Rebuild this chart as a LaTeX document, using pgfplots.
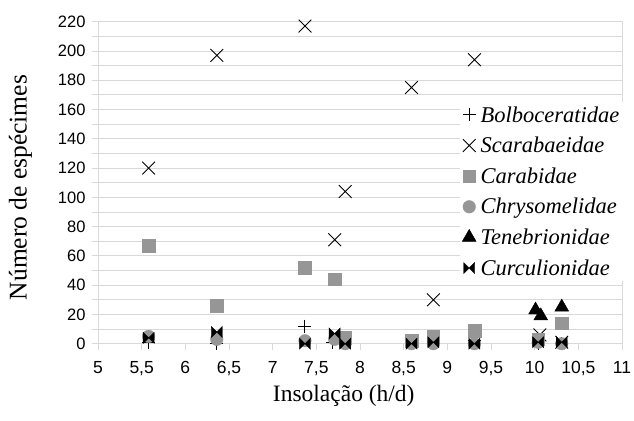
\documentclass[border=0pt]{standalone}
\usepackage{fontspec}
\setmainfont{Liberation Serif}
\setsansfont{Liberation Sans}
\usepackage{pgfplots}
\pgfplotsset{compat=1.18}
\pgfdeclareplotmark{bowtie}{%
  \pgfpathmoveto{\pgfqpoint{-\pgfplotmarksize}{\pgfplotmarksize}}%
  \pgfpathlineto{\pgfqpoint{\pgfplotmarksize}{-\pgfplotmarksize}}%
  \pgfpathlineto{\pgfqpoint{\pgfplotmarksize}{\pgfplotmarksize}}%
  \pgfpathlineto{\pgfqpoint{-\pgfplotmarksize}{-\pgfplotmarksize}}%
  \pgfpathclose
  \pgfusepathqfillstroke}
\definecolor{gridc}{RGB}{217,217,217}
\definecolor{markg}{RGB}{150,150,150}
\begin{document}
\begin{tikzpicture}
\begin{axis}[
  scale only axis,
  width=524pt, height=322pt,
  xmin=5, xmax=11, ymin=0, ymax=220,
  xtick distance=0.5, ytick distance=20,
  minor y tick num=1,
  ymajorgrids, yminorgrids,
  major grid style={gridc, line width=0.8pt},
  minor grid style={gridc, line width=0.8pt},
  axis line style={gridc, line width=0.8pt},
  tick style={gridc, line width=0.8pt},
  tick align=outside,
  major tick length=6pt, minor tick length=6pt,
  xtick pos=bottom, ytick pos=left,
  /pgf/number format/use comma,
  /pgf/number format/assume math mode=true,
  xticklabel style={font=\sffamily\fontsize{17.5}{17.5}\selectfont, black, yshift=-8pt},
  yticklabel style={font=\sffamily\fontsize{16.5}{16.5}\selectfont, black, xshift=-3pt},
  xlabel={Insolação (h/d)},
  ylabel={Número de espécimes},
  xlabel style={font=\fontsize{23.5}{23.5}\selectfont, at={(rel axis cs:0.469,-0.163)}, anchor=center},
  ylabel style={font=\fontsize{25.5}{25.5}\selectfont, at={(rel axis cs:-0.148,0.485)}, anchor=center},
  legend cell align=left,
  legend style={at={(rel axis cs:0.691,0.750)}, anchor=north west,
    draw=none, fill=white, font=\itshape\fontsize{22.5}{22.5}\selectfont,
    row sep=9.5pt, inner sep=2pt},
  legend image code/.code={\path (0.2cm,0cm) ++(9pt,0pt); \draw plot coordinates {(0.2cm,0cm)};},
]
\coordinate (A) at (rel axis cs:0,0);
\coordinate (B) at (rel axis cs:1,1);
\addplot[only marks, mark=+, mark size=6.5pt, line width=1pt, black] coordinates {
 (5.58,1)(6.36,0)(7.37,12)(7.69,0.5)(7.83,0.5)(8.59,1)(8.84,0)(9.31,2)(10.04,0)(10.31,0)};
\addlegendentry{Bolboceratidae}
\addplot[only marks, mark=x, mark size=9pt, line width=0.9pt, black] coordinates {
 (5.58,120)(6.36,197)(7.37,217)(7.71,71)(7.83,104)(8.59,175)(8.84,30)(9.31,194)(10.06,6)(10.31,1)};
\addlegendentry{Scarabaeidae}
\addplot[only marks, mark=square*, mark size=6.3pt, draw=markg, fill=markg, mark options={draw=markg, fill=markg}] coordinates {
 (5.58,67)(6.36,26)(7.37,52)(7.71,44)(7.83,4)(8.59,2)(8.84,5)(9.31,9)(10.04,3)(10.31,14)};
\addlegendentry{Carabidae}
\addplot[only marks, mark=*, mark size=6.3pt, draw=markg, fill=markg, mark options={draw=markg, fill=markg}] coordinates {
 (5.58,5)(6.36,3)(7.37,2)(7.71,3)(7.83,0)(8.59,0)(8.84,0)(9.31,0)(10.04,1)(10.31,0)};
\addlegendentry{Chrysomelidae}
\addplot[only marks, mark=triangle*, mark size=8pt, black] coordinates {
 (10.01,23)(10.07,19)(10.31,25)};
\addlegendentry{Tenebrionidae}
\addplot[only marks, mark=bowtie, mark size=5.5pt, black] coordinates {
 (5.58,4)(6.36,8)(7.37,0)(7.71,7)(7.83,0)(8.59,0)(8.84,1)(9.31,0)(10.04,1)(10.31,1)};
\addlegendentry{Curculionidae}
\end{axis}
\pgfresetboundingbox
\path ([shift={(-98pt,-76.3pt)}]A) rectangle ([shift={(12pt,21.7pt)}]B);
\end{tikzpicture}
\end{document}
